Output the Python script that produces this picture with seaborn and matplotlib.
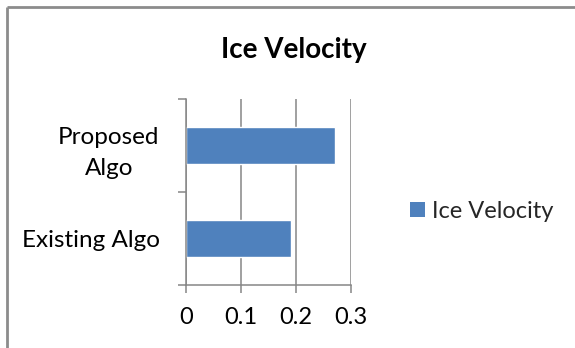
import matplotlib
matplotlib.use("Agg")
import matplotlib.pyplot as plt
import seaborn as sns
import pandas as pd
from matplotlib.patches import Rectangle
from matplotlib.lines import Line2D

categories = ["Proposed\nAlgo", "Existing Algo"]
values = [0.27, 0.19]
series_name = "Ice Velocity"
x_ticks = [0, 0.1, 0.2, 0.3]
x_tick_labels = ["0", "0.1", "0.2", "0.3"]

sns.set_theme(style="white")
plt.rcParams["font.family"] = ["Lato", "DejaVu Sans"]
plt.rcParams["figure.edgecolor"] = "white"

bar_color = "#4F81BD"
axis_grey = "#868686"

df = pd.DataFrame({"Algorithm": categories, "Value": values, "Series": series_name})

W, H = 575, 348
fig = plt.figure(figsize=(W / 100, H / 100), dpi=100, linewidth=0)
ax = fig.add_axes([186 / W, 1 - 285 / H, (351 - 186) / W, (285 - 99) / H])

sns.barplot(data=df, y="Algorithm", x="Value", hue="Series", orient="h",
            palette=[bar_color], saturation=1, width=0.4, ax=ax,
            legend=False, zorder=3)

ax.set_xlim(0, 0.3)
ax.set_ylim(1.5, -0.5)
ax.set_xlabel("")
ax.set_ylabel("")

# vertical gridlines
ax.set_xticks(x_ticks)
ax.set_xticklabels(x_tick_labels, fontsize=17, color="black")
ax.grid(axis="x", color=axis_grey, linewidth=1.1, zorder=0)
ax.grid(axis="y", visible=False)

# category ticks at boundaries, labels centered on bars
ax.set_yticks([-0.5, 0.5, 1.5])
ax.set_yticklabels(["", "", ""])
ax.set_yticks([0, 1], minor=True)
ax.set_yticklabels(categories, minor=True, fontsize=17.5, color="black",
                   multialignment="center", linespacing=1.6)
ax.tick_params(axis="y", which="minor", length=0, pad=19)
ax.tick_params(axis="y", which="major", length=6, width=1.1, color=axis_grey,
               direction="out", left=True)
ax.tick_params(axis="x", which="major", length=6, width=1.1, color=axis_grey,
               direction="out", bottom=True, pad=10)

for side in ["top", "right"]:
    ax.spines[side].set_visible(False)
for side in ["left", "bottom"]:
    ax.spines[side].set_color(axis_grey)
    ax.spines[side].set_linewidth(1.1)
    ax.spines[side].set_zorder(4)

# title
fig.text(294 / W, 1 - 58 / H, "Ice Velocity", ha="center", va="baseline",
         fontsize=20, fontweight="bold", color="black")

# legend
handle = Rectangle((0, 0), 1, 1, facecolor=bar_color, edgecolor="none")
fig.legend([handle], [series_name], loc="center left",
           bbox_to_anchor=(410 / W, 1 - 211 / H), frameon=False, fontsize=17,
           handlelength=0.62, handleheight=0.62, handletextpad=0.3,
           borderpad=0, borderaxespad=0)

# outer chart frame (left and top edges)
fx, fy = 6.5 / W, 1 - 6.5 / H
fig.add_artist(Line2D([fx, fx], [0, fy], transform=fig.transFigure,
                      color="#8C8C8C", linewidth=2.0, solid_capstyle="butt"))
fig.add_artist(Line2D([fx, 1], [fy, fy], transform=fig.transFigure,
                      color="#8C8C8C", linewidth=2.0, solid_capstyle="butt"))

fig.savefig("out.png", dpi=100)
